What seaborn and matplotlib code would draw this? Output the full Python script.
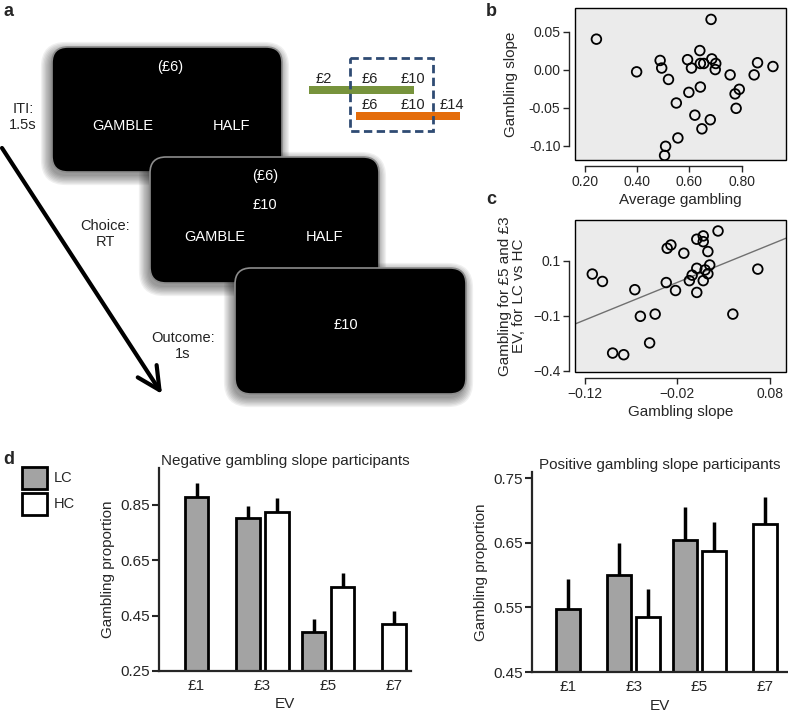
import numpy as np
import pandas as pd
import matplotlib
matplotlib.use('Agg')
import matplotlib.pyplot as plt
import seaborn as sns
from matplotlib.patches import FancyBboxPatch, Rectangle, Patch
from matplotlib.ticker import FormatStrFormatter

# panel b: average gambling vs gambling slope
avg_gambling = [0.244, 0.683, 0.398, 0.488, 0.494, 0.520, 0.593, 0.608, 0.640, 0.642,
                0.655, 0.686, 0.701, 0.699, 0.756, 0.848, 0.861, 0.920, 0.791, 0.775,
                0.779, 0.642, 0.598, 0.550, 0.621, 0.680, 0.648, 0.556, 0.509, 0.505]
gambling_slope_b = [0.040, 0.066, -0.003, 0.012, 0.002, -0.013, 0.013, 0.002, 0.025, 0.008,
                    0.008, 0.014, 0.008, 0.000, -0.007, -0.007, 0.009, 0.004, -0.026, -0.032,
                    -0.051, -0.023, -0.030, -0.044, -0.060, -0.066, -0.078, -0.090, -0.101, -0.113]

# panel c: gambling slope vs LC-HC difference
gambling_slope_c = [-0.112, -0.101, -0.090, -0.078, -0.066, -0.060, -0.044, -0.050, -0.031, -0.027,
                    -0.032, -0.022, -0.013, -0.007, -0.004, 0.001, 0.001, 0.001, 0.008, 0.008,
                    0.008, 0.010, 0.013, 0.013, 0.015, 0.024, 0.040, 0.067]
lc_vs_hc = [0.052, 0.025, -0.236, -0.242, -0.005, -0.102, -0.094, -0.199, 0.146, 0.158,
            0.021, -0.008, 0.128, 0.028, 0.048, 0.073, 0.179, -0.015, 0.191, 0.170,
            0.028, 0.067, 0.134, 0.053, 0.085, 0.209, -0.094, 0.070]
fit_intercept = 0.049
fit_slope = 1.37
c_ytick_pos = [0.1, -0.1, -0.3]
c_ytick_labels = ['0.1', '\u22120.1', '\u22120.4']

# panel d: gambling proportion by EV
ev_labels = ['£1', '£3', '£5', '£7']
neg_lc = [0.877, 0.801, 0.390, np.nan]
neg_lc_err = [0.052, 0.046, 0.049, np.nan]
neg_hc = [np.nan, 0.824, 0.552, 0.418]
neg_hc_err = [np.nan, 0.051, 0.052, 0.050]
pos_lc = [0.547, 0.601, 0.655, np.nan]
pos_lc_err = [0.047, 0.049, 0.050, np.nan]
pos_hc = [np.nan, 0.536, 0.637, 0.679]
pos_hc_err = [np.nan, 0.042, 0.045, 0.043]

sns.set_style('ticks')
plt.rcParams['font.family'] = ['Liberation Sans', 'DejaVu Sans']

W, H = 788, 714
fig = plt.figure(figsize=(W / 100, H / 100), dpi=100)


def px_axes(x0, y0, x1, y1):
    # axes from pixel box (top-left origin)
    return fig.add_axes([x0 / W, 1 - y1 / H, (x1 - x0) / W, (y1 - y0) / H])


# ---------------- panel a (task diagram) ----------------
ax_a = fig.add_axes([0, 0, 1, 1], zorder=0)
ax_a.set_xlim(0, W)
ax_a.set_ylim(H, 0)
ax_a.axis('off')


def card(x, y, w, h):
    # soft drop shadow, then the rounded black screen
    for k in range(8):
        ax_a.add_patch(FancyBboxPatch((x - 2, y + 4), w, h,
                                      boxstyle=f'round,pad={k * 1.3},rounding_size={16 + k * 1.3}',
                                      fc='black', ec='none', alpha=0.06))
    ax_a.add_patch(FancyBboxPatch((x, y), w, h, boxstyle='round,pad=0,rounding_size=16',
                                  fc='black', ec='#8c8c8c', lw=1.2))


tk = dict(color='white', fontsize=10.5, ha='center', va='center')
card(52, 47, 230, 125)
ax_a.text(170, 67, '(£6)', **tk)
ax_a.text(123, 126, 'GAMBLE', **tk)
ax_a.text(232, 126, 'HALF', **tk)
card(150, 157, 229, 126)
ax_a.text(265, 176, '(£6)', **tk)
ax_a.text(265, 205, '£10', **tk)
ax_a.text(215, 237, 'GAMBLE', **tk)
ax_a.text(325, 237, 'HALF', **tk)
card(235, 268, 231, 126)
ax_a.text(346, 325, '£10', **tk)

lk = dict(color='#222222', fontsize=10.5, ha='center', va='center', linespacing=1.15)
ax_a.text(23, 117, 'ITI:\n1.5s', **lk)
ax_a.text(105, 234, 'Choice:\nRT', **lk)
ax_a.text(183, 346, 'Outcome:\n1s', **lk)
ax_a.annotate('', xy=(162, 394), xytext=(2, 148),
              arrowprops=dict(arrowstyle='->,head_length=0.9,head_width=0.45', lw=3, color='black',
                              mutation_scale=18, shrinkA=0, shrinkB=0))

# range diagram
ax_a.add_patch(Rectangle((309, 86), 105, 8, fc='#77933c', ec='none'))
ax_a.add_patch(Rectangle((356, 112), 104, 8, fc='#e46c0a', ec='none'))
ax_a.add_patch(Rectangle((350, 58), 83, 73, fill=False, ec='#2f4b73', lw=2, ls=(0, (3, 1.6))))
rk = dict(color='#222222', fontsize=10.5, ha='center', va='center')
for x, t in [(324, '£2'), (370, '£6'), (413, '£10')]:
    ax_a.text(x, 79, t, **rk)
for x, t in [(370, '£6'), (413, '£10'), (452, '£14')]:
    ax_a.text(x, 105, t, **rk)


# ---------------- panels b and c ----------------
def r_style(ax, xb, yb):
    ax.set_facecolor('#ebebeb')
    ax.spines['top'].set_visible(False)
    ax.spines['right'].set_visible(False)
    ax.spines['left'].set_position(('outward', 4))
    ax.spines['left'].set_bounds(*yb)
    ax.spines['bottom'].set_position(('outward', 4))
    ax.spines['bottom'].set_bounds(*xb)
    for s in ['left', 'bottom']:
        ax.spines[s].set_linewidth(1)
    ax.add_patch(Rectangle((0, 0), 1, 1, transform=ax.transAxes, fill=False, ec='black',
                           lw=1, clip_on=False, zorder=5))
    ax.tick_params(direction='out', length=4.5, width=1, labelsize=10, pad=2)


ax_b = px_axes(575, 8, 786, 160)
sns.scatterplot(x=avg_gambling, y=gambling_slope_b, ax=ax_b, s=48, facecolor='none',
                edgecolor='black', linewidth=1.3, zorder=3)
ax_b.set_xlim(0.162, 0.97)
ax_b.set_ylim(-0.119, 0.081)
ax_b.set_xticks([0.2, 0.4, 0.6, 0.8])
ax_b.set_yticks([-0.10, -0.05, 0.0, 0.05])
ax_b.xaxis.set_major_formatter(FormatStrFormatter('%.2f'))
ax_b.yaxis.set_major_formatter(FormatStrFormatter('%.2f'))
r_style(ax_b, (0.2, 0.8), (-0.10, 0.05))
ax_b.set_xlabel('Average gambling', fontsize=11, labelpad=3)
ax_b.set_ylabel('Gambling slope', fontsize=11, labelpad=8)

ax_c = px_axes(575, 220, 786, 372)
sns.scatterplot(x=gambling_slope_c, y=lc_vs_hc, ax=ax_c, s=48, facecolor='none',
                edgecolor='black', linewidth=1.3, zorder=3)
ax_c.axline((0, fit_intercept), slope=fit_slope, color='#707070', lw=1, zorder=2)
ax_c.set_xlim(-0.1307, 0.0975)
ax_c.set_ylim(-0.305, 0.249)
ax_c.set_xticks([-0.12, -0.02, 0.08])
ax_c.set_xticklabels(['\u22120.12', '\u22120.02', '0.08'])
ax_c.set_yticks(c_ytick_pos)
ax_c.set_yticklabels(c_ytick_labels)
r_style(ax_c, (-0.12, 0.08), (-0.3, 0.1))
ax_c.set_xlabel('Gambling slope', fontsize=11, labelpad=3)
ax_c.set_ylabel('Gambling for £5 and £3\nEV, for LC vs HC', fontsize=11, labelpad=5,
                linespacing=1.05)


# ---------------- panel d ----------------
def bar_panel(ax, lc, lc_err, hc, hc_err, xlim, ylim, yticks, title):
    lc, lc_err, hc, hc_err = map(np.asarray, (lc, lc_err, hc, hc_err))
    idx = np.arange(len(ev_labels))
    off = np.where(~np.isnan(lc) & ~np.isnan(hc), 0.22, 0.0)
    for xs, v, e, fc in [(idx - off, lc, lc_err, '#a3a3a3'), (idx + off, hc, hc_err, 'white')]:
        ax.errorbar(xs, v, yerr=[np.zeros_like(e), e], fmt='none', ecolor='black',
                    elinewidth=2.5, capsize=0, zorder=1)
        ax.bar(xs, v, width=0.36, color=fc, edgecolor='black', linewidth=2, zorder=2)
    ax.set_xlim(*xlim)
    ax.set_ylim(*ylim)
    ax.set_xticks(idx)
    ax.set_xticklabels(ev_labels)
    ax.set_yticks(yticks)
    ax.yaxis.set_major_formatter(FormatStrFormatter('%.2f'))
    sns.despine(ax=ax)
    for s in ['left', 'bottom']:
        ax.spines[s].set_linewidth(1.6)
    ax.tick_params(axis='x', length=0, labelsize=11, pad=6)
    ax.tick_params(axis='y', length=5, width=1.5, labelsize=11, pad=1.5)
    ax.set_xlabel('EV', fontsize=11, labelpad=3)
    ax.set_ylabel('Gambling proportion', fontsize=11, labelpad=4)
    ax.set_title(title, fontsize=11, pad=2)


ax_dl = px_axes(159, 468, 411, 671)
bar_panel(ax_dl, neg_lc, neg_lc_err, neg_hc, neg_hc_err, (-0.57, 3.26), (0.25, 0.983),
          [0.25, 0.45, 0.65, 0.85], 'Negative gambling slope participants')
ax_dr = px_axes(532, 472, 788, 672)
bar_panel(ax_dr, pos_lc, pos_lc_err, pos_hc, pos_hc_err, (-0.55, 3.35), (0.45, 0.76),
          [0.45, 0.55, 0.65, 0.75], 'Positive gambling slope participants')

handles = [Patch(fc='#a3a3a3', ec='black', lw=2, label='LC'),
           Patch(fc='white', ec='black', lw=2, label='HC')]
fig.legend(handles=handles, loc='upper left', bbox_to_anchor=(22 / W, 1 - 467 / H), frameon=False,
           fontsize=10.5, handlelength=1.7, handleheight=1.9, handletextpad=0.45,
           labelspacing=0.3, borderpad=0, borderaxespad=0)

for x, y, t in [(3, 12, 'a'), (486, 12, 'b'), (486, 200, 'c'), (3, 460, 'd')]:
    fig.text(x / W, 1 - y / H, t, fontsize=13, fontweight='bold', va='center', ha='left')

fig.savefig('out.png', dpi=100)
